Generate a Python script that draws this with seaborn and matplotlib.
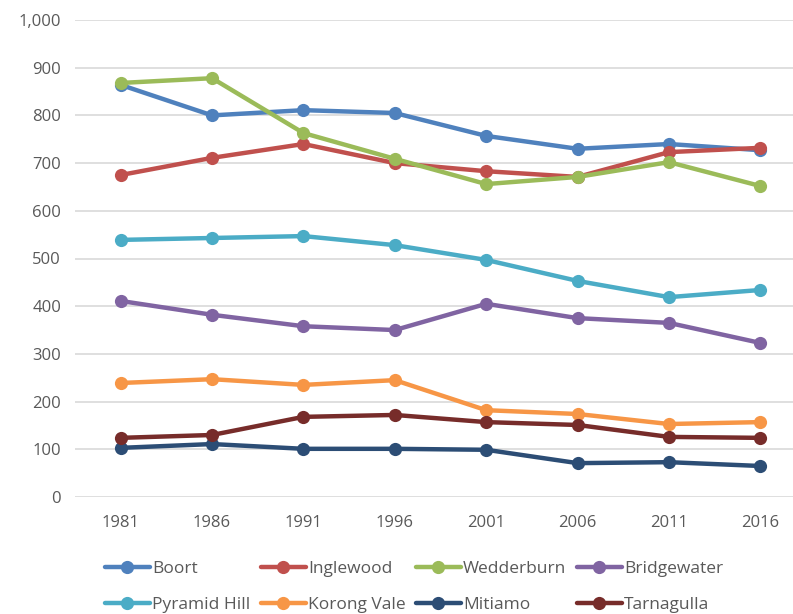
import matplotlib
matplotlib.use("Agg")
import matplotlib.pyplot as plt
import seaborn as sns
import pandas as pd

years = [1981, 1986, 1991, 1996, 2001, 2006, 2011, 2016]

boort = [864, 800, 811, 805, 757, 730, 740, 727]
inglewood = [675, 711, 740, 700, 683, 671, 723, 732]
wedderburn = [868, 878, 763, 709, 656, 671, 702, 652]
bridgewater = [411, 382, 358, 350, 405, 375, 365, 323]
pyramid_hill = [539, 543, 547, 528, 497, 453, 419, 434]
korong_vale = [239, 247, 235, 245, 182, 174, 153, 157]
mitiamo = [103, 111, 101, 101, 99, 71, 73, 65]
tarnagulla = [124, 130, 168, 172, 157, 151, 126, 124]

towns = ["Boort", "Inglewood", "Wedderburn", "Bridgewater",
         "Pyramid Hill", "Korong Vale", "Mitiamo", "Tarnagulla"]
series = [boort, inglewood, wedderburn, bridgewater,
          pyramid_hill, korong_vale, mitiamo, tarnagulla]
colors = ["#4F81BD", "#C0504D", "#9BBB59", "#8064A2",
          "#4BACC6", "#F79646", "#2C4D75", "#772C2A"]

yticks = list(range(0, 1001, 100))

rows = []
for town, vals in zip(towns, series):
    for yr, v in zip(years, vals):
        rows.append({"Year": yr, "Population": v, "Town": town})
df = pd.DataFrame(rows)

sns.set_theme(style="white")
plt.rcParams["font.family"] = ["Open Sans", "DejaVu Sans"]

fig = plt.figure(figsize=(7.93, 6.14), dpi=100)
ax = fig.add_axes([75 / 793, 117 / 614, 731 / 793, 477 / 614])

for town, col in zip(towns, colors):
    sub = df[df["Town"] == town]
    sns.lineplot(data=sub, x="Year", y="Population", ax=ax, color=col,
                 linewidth=3.2, marker="o", markersize=9.5,
                 markeredgewidth=0, label=town, clip_on=False)

ax.set_xlim(1978.5, 2018.5)
ax.set_ylim(0, 1000)
ax.set_xticks(years)
ax.set_xticklabels([str(y) for y in years])
ax.set_yticks(yticks)
ax.set_yticklabels([f"{v:,}" for v in yticks])
ax.yaxis.grid(True, color="#D9D9D9", linewidth=1.2)
ax.xaxis.grid(False)
for s in ax.spines.values():
    s.set_visible(False)
ax.tick_params(axis="both", length=0, labelsize=12, colors="#595959")
ax.tick_params(axis="x", pad=13)
ax.tick_params(axis="y", pad=10)
ax.set_xlabel("")
ax.set_ylabel("")

handles, labels = ax.get_legend_handles_labels()
ax.get_legend().remove()
order = [0, 4, 1, 5, 2, 6, 3, 7]
fig.legend([handles[i] for i in order], [labels[i] for i in order],
           loc="center left", bbox_to_anchor=(96 / 793, 1 - 587 / 614),
           ncol=4, frameon=False, fontsize=12.5, labelcolor="#595959",
           handlelength=2.6, handletextpad=0.12, columnspacing=0.6,
           labelspacing=1.1, borderpad=0)

fig.savefig("out.png", dpi=100)
